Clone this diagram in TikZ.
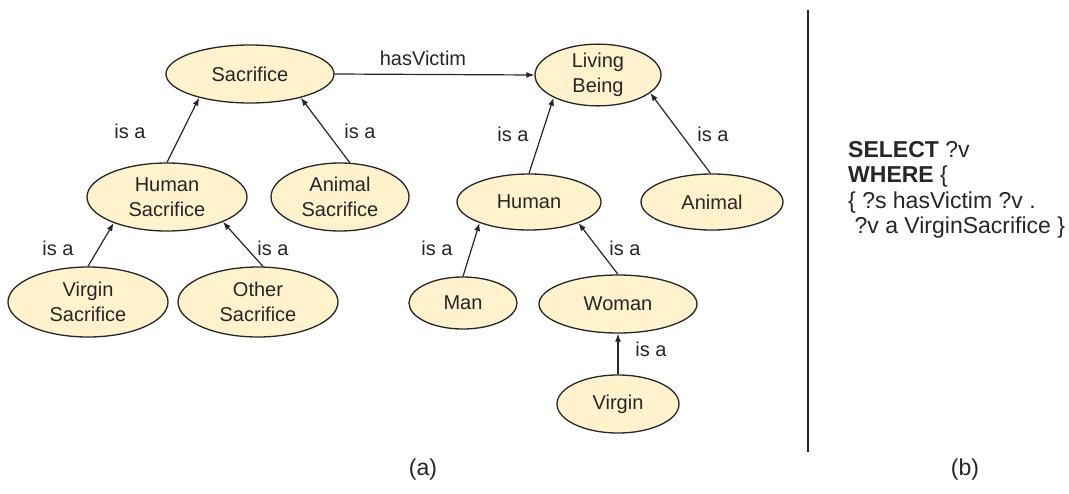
\documentclass[tikz,border=0pt]{standalone}
\usepackage{fontspec}
\setmainfont{Liberation Sans}
\usetikzlibrary{shapes.geometric,arrows.meta}
\definecolor{nodefill}{HTML}{FFF2CC}
\definecolor{ink}{HTML}{262626}
\begin{document}
\begin{tikzpicture}[x=1pt,y=-1pt,
  concept/.style={ellipse,draw=ink,line width=1.3pt,fill=nodefill,inner sep=0pt,
    align=center,text=ink,font=\fontsize{20}{25}\selectfont},
  rel/.style={draw=ink,line width=1.2pt,-{Latex[length=8pt,width=6pt]}},
  lbl/.style={text=ink,font=\fontsize{20}{24}\selectfont,inner sep=0pt},
  captext/.style={text=ink,font=\fontsize{23}{28}\selectfont,inner sep=0pt}]
\useasboundingbox (0,0) rectangle (1069,493);
% nodes
\node[concept,minimum width=168pt,minimum height=58pt] (sac) at (250,74) {Sacrifice};
\node[concept,minimum width=126pt,minimum height=60pt] (lb) at (598,75) {Living\\Being};
\node[concept,minimum width=160pt,minimum height=68pt] (hs) at (167,197) {Human\\Sacrifice};
\node[concept,minimum width=138pt,minimum height=68pt] (as) at (340,197) {Animal\\Sacrifice};
\node[concept,minimum width=160pt,minimum height=70pt] (vs) at (88,302) {Virgin\\Sacrifice};
\node[concept,minimum width=160pt,minimum height=70pt] (os) at (258,302) {Other\\Sacrifice};
\node[concept,minimum width=144pt,minimum height=56pt] (hu) at (529,202) {Human};
\node[concept,minimum width=142pt,minimum height=56pt] (an) at (712,202) {Animal};
\node[concept,minimum width=108pt,minimum height=52pt] (man) at (463,303) {Man};
\node[concept,minimum width=158pt,minimum height=58pt] (wo) at (618,304) {Woman};
\node[concept,minimum width=122pt,minimum height=58pt] (vi) at (618,404) {Virgin};
% connectors
\draw[rel] (sac.east) -- (lb.west);
\draw[rel] (hs.north) -- (sac.205);
\draw[rel] (as.74) -- (sac.335);
\draw[rel] (vs.north) -- (hs.206);
\draw[rel] (os.82) -- (hs.336);
\draw[rel] (hu.north) -- (lb.207);
\draw[rel] (an.93) -- (lb.341);
\draw[rel] (man.north) -- (hu.203);
\draw[rel] (wo.north) -- (hu.337);
\draw[rel] (vi.north) -- (wo.south);
% labels
\node[lbl] (l1) at (423,58) {hasVictim};
\node[lbl] (l2) at (130,131) {is a};
\node[lbl] (l3) at (360,131) {is a};
\node[lbl] (l4) at (58,248) {is a};
\node[lbl] (l5) at (273,248) {is a};
\node[lbl] (l6) at (513,134) {is a};
\node[lbl] (l7) at (713,134) {is a};
\node[lbl] (l8) at (437,248) {is a};
\node[lbl] (l9) at (625,248) {is a};
\node[lbl] (l10) at (651,349) {is a};
% divider
\coordinate (dt) at (808,10);
\coordinate (db) at (808,452);
\draw[ink,line width=1.3pt] (dt) -- (db);
% query
\node[anchor=north west,inner sep=0pt,align=left,text=ink,
  font=\fontsize{23}{25.5}\selectfont] (q) at (848,141)
  {\textbf{SELECT} ?v\\\textbf{WHERE} \{\\\{ ?s hasVictim ?v .\\\ ?v a VirginSacrifice \}};
% captions
\node[captext] (ca) at (423,470) {(a)};
\node[captext] (cb) at (965,470) {(b)};
\end{tikzpicture}
\end{document}
